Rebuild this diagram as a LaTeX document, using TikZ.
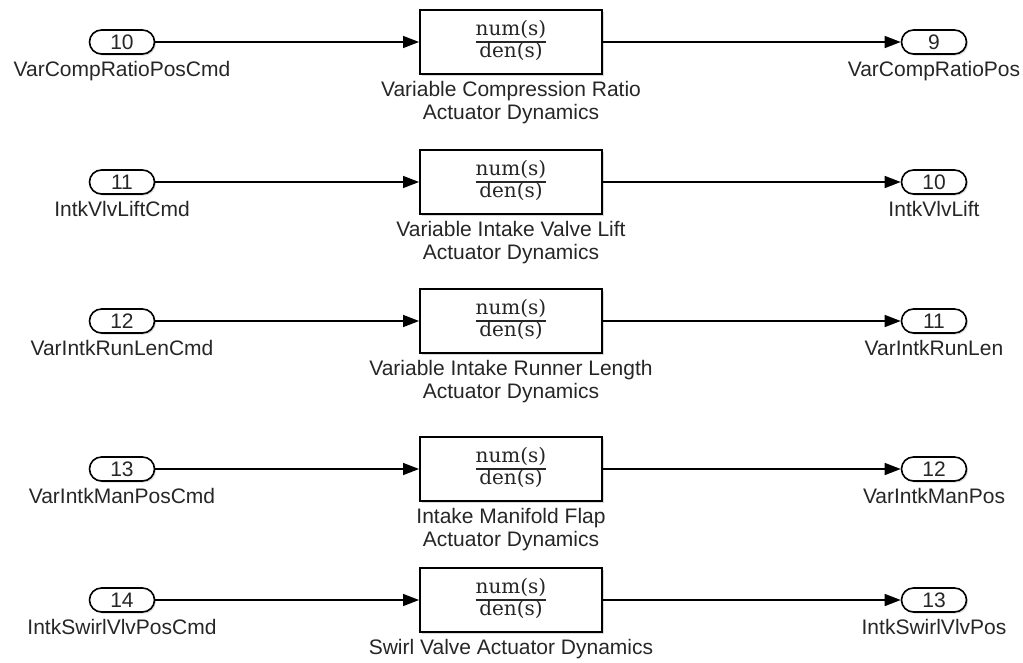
\documentclass[tikz,border=0pt]{standalone}
\usepackage{fontspec}
\setmainfont{Liberation Sans}
\newfontfamily\fracfont{DejaVu Serif}
\usetikzlibrary{arrows.meta,shapes.misc,shadows}
\tikzset{
  shad/.style={drop shadow={shadow xshift=1.5pt,shadow yshift=-1.5pt,opacity=0.25,fill=black!60}},
  port/.style={rounded rectangle, draw=black, line width=1.6pt, minimum width=65pt,
    minimum height=24pt, inner sep=0pt, fill=white, shad, text=black!85,
    font=\fontsize{21}{22}\selectfont},
  tfbox/.style={rectangle, draw=black, line width=1.9pt, minimum width=182pt,
    minimum height=64pt, inner sep=0pt, fill=white, shad, text=black!85},
  lbl/.style={font=\fontsize{21}{23}\selectfont, align=center, inner sep=0pt, text=black!85},
  wire/.style={line width=1.4pt, -{Triangle[length=16pt,width=12pt]}}
}
\newcommand{\tfcontent}{{\fracfont\fontsize{20}{21}\selectfont\setlength\arrayrulewidth{1.4pt}\renewcommand\arraystretch{0.9}\begin{tabular}{@{}c@{}}num(s)\\\hline den(s)\end{tabular}}}
\begin{document}
\begin{tikzpicture}[x=1pt,y=-1pt]
\useasboundingbox (0,0) rectangle (1023,662);
\foreach \r/\y/\ni/\li/\no/\lo/\lb in {
  1/42/10/VarCompRatioPosCmd/9/VarCompRatioPos/{Variable Compression Ratio\\Actuator Dynamics},
  2/182/11/IntkVlvLiftCmd/10/IntkVlvLift/{Variable Intake Valve Lift\\Actuator Dynamics},
  3/321/12/VarIntkRunLenCmd/11/VarIntkRunLen/{Variable Intake Runner Length\\Actuator Dynamics},
  4/469/13/VarIntkManPosCmd/12/VarIntkManPos/{Intake Manifold Flap\\Actuator Dynamics},
  5/600/14/IntkSwirlVlvPosCmd/13/IntkSwirlVlvPos/{Swirl Valve Actuator Dynamics}}{
  \node[port] (in\r) at (122,\y) {\ni};
  \node[lbl, anchor=north] (inl\r) at ([yshift=-6pt]in\r.south) {\li};
  \node[tfbox] (tf\r) at (511,\y) {\tfcontent};
  \node[lbl, anchor=north] (tfl\r) at ([yshift=-6pt]tf\r.south) {\lb};
  \node[port] (out\r) at (934,\y) {\no};
  \node[lbl, anchor=north] (outl\r) at ([yshift=-6pt]out\r.south) {\lo};
  \draw[wire] (in\r.east) -- (tf\r.west);
  \draw[wire] (tf\r.east) -- (out\r.west);
}
\end{tikzpicture}
\end{document}
